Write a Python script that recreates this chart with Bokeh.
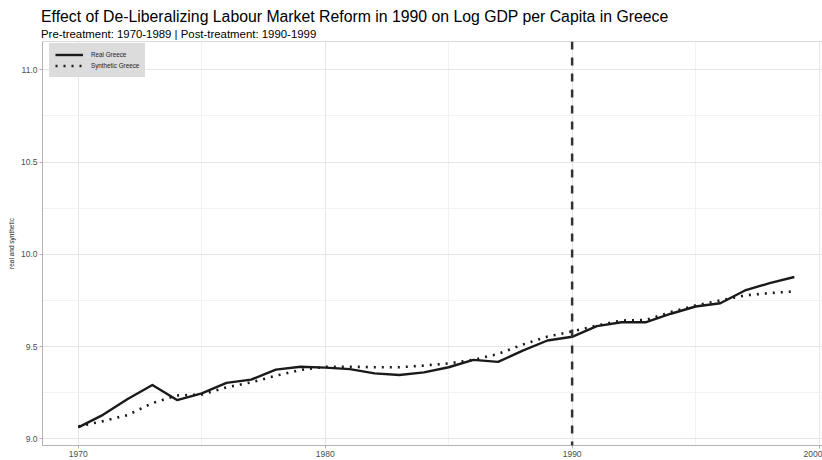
from bokeh.plotting import figure
from bokeh.models import (Span, Title, Legend, LegendItem, SingleIntervalTicker,
                          NumeralTickFormatter, Range1d)
from bokeh.embed import file_html
from bokeh.resources import INLINE

# Log GDP per capita, Greece vs. its synthetic control
years = list(range(1970, 2000))
real_greece = [9.062, 9.130, 9.216, 9.292, 9.210, 9.246, 9.303, 9.321, 9.375, 9.391,
               9.386, 9.378, 9.355, 9.346, 9.360, 9.388, 9.428, 9.417, 9.478, 9.533,
               9.553, 9.611, 9.632, 9.632, 9.678, 9.717, 9.735, 9.804, 9.844, 9.877]
synthetic_greece = [9.067, 9.096, 9.129, 9.194, 9.235, 9.240, 9.279, 9.306, 9.342, 9.373,
                    9.391, 9.391, 9.388, 9.388, 9.397, 9.409, 9.428, 9.460, 9.511, 9.554,
                    9.582, 9.614, 9.641, 9.645, 9.687, 9.723, 9.750, 9.777, 9.790, 9.799]
treatment_year = 1990

title_text = "Effect of De-Liberalizing Labour Market Reform in 1990 on Log GDP per Capita in Greece"
subtitle_text = "Pre-treatment: 1970-1989 | Post-treatment: 1990-1999"
y_label = "real and synthetic"
series_names = ["Real Greece", "Synthetic Greece"]

FONT = "Liberation Sans"
GRAY70 = "#b3b3b3"

p = figure(width=822, height=460, output_backend="svg", toolbar_location=None,
           x_range=Range1d(1968.55, 2000.14), y_range=Range1d(8.964, 11.153),
           min_border_left=42, min_border_right=0, min_border_top=41, min_border_bottom=15,
           background_fill_color="white", border_fill_color="white")
p.outline_line_color = None

# axes
p.xaxis.ticker = SingleIntervalTicker(interval=10, num_minor_ticks=2)
p.yaxis.ticker = SingleIntervalTicker(interval=0.5, num_minor_ticks=2)
p.yaxis.formatter = NumeralTickFormatter(format="0.0")
for ax in (p.xaxis, p.yaxis):
    ax.axis_line_color = GRAY70
    ax.major_tick_line_color = GRAY70
    ax.major_tick_in = 0
    ax.major_tick_out = 3
    ax.minor_tick_line_color = None
    ax.major_label_text_font = FONT
    ax.major_label_text_font_size = "8.5px"
    ax.major_label_text_color = "#4d4d4d"
    ax.major_label_standoff = 1
p.yaxis.axis_label = y_label
p.yaxis.axis_label_text_font = FONT
p.yaxis.axis_label_text_font_size = "6.5px"
p.yaxis.axis_label_text_font_style = "normal"
p.yaxis.axis_label_text_color = "#1a1a1a"
p.yaxis.axis_label_standoff = 3

# grid
p.grid.grid_line_color = "#e6e6e6"
p.grid.grid_line_width = 1
p.grid.minor_grid_line_color = "#f2f2f2"
p.grid.minor_grid_line_width = 1

# top panel border
p.add_layout(Span(location=p.y_range.end, dimension="width", line_color=GRAY70, line_width=1))

# series
r_real = p.line(years, real_greece, line_color="#1a1a1a", line_width=2.4, line_join="round")
r_syn = p.line(years, synthetic_greece, line_color="#1a1a1a", line_width=2.6,
               line_dash="2 6", line_cap="butt")

# treatment marker
p.add_layout(Span(location=treatment_year, dimension="height", line_color="#333333",
                  line_width=2.5, line_dash="8 8"))

legend = Legend(items=[LegendItem(label=series_names[0], renderers=[r_real]),
                       LegendItem(label=series_names[1], renderers=[r_syn])],
                location=(7, 368), orientation="vertical",
                background_fill_color="#dcdcdc", background_fill_alpha=1.0,
                border_line_color="#dcdcdc", border_line_width=1,
                padding=5, spacing=0, margin=0,
                glyph_width=28, glyph_height=11, label_height=11, label_standoff=8,
                label_text_font=FONT, label_text_font_size="6.3px",
                label_text_color="#222222")
p.add_layout(legend)

# titles, aligned with the panel's left edge
p.add_layout(Title(text=subtitle_text, align="left", text_font=FONT, text_font_size="11.4px",
                   text_font_style="normal", text_color="#000000", standoff=3, offset=-1.5),
             "above")
p.add_layout(Title(text=title_text, align="left", text_font=FONT, text_font_size="15.8px",
                   text_font_style="normal", text_color="#000000", standoff=0, offset=-1.5),
             "above")

open("out.html", "w").write(file_html(p, INLINE))
